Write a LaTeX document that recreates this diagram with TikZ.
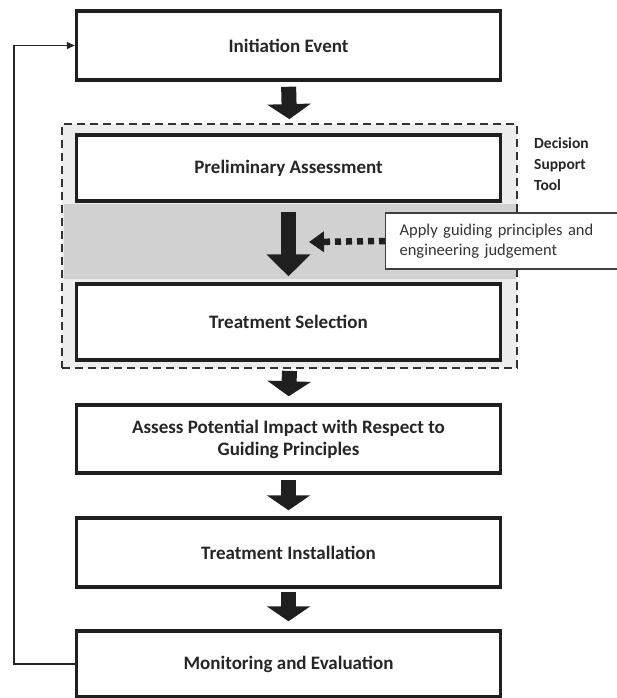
\documentclass[tikz,border=0pt]{standalone}
\usepackage{fontspec}
\setmainfont{Carlito}
\usetikzlibrary{arrows.meta}

\begin{document}
\begin{tikzpicture}[x=1pt,y=-1pt,
  procbox/.style={draw=black!88,line width=3.5pt,fill=white,minimum width=424pt,inner sep=0pt,align=center,text=black!85,font=\fontsize{19}{22}\selectfont\bfseries},
  blockarr/.style={draw=black!88,line width=15pt,-{Triangle[width=43pt,length=15pt]}},
  dotarr/.style={draw=black!88,line width=6.5pt,dash pattern=on 6pt off 5pt,-{Triangle[width=20pt,length=15pt]}},
  fback/.style={draw=black!85,line width=1.6pt,-{Triangle[width=7pt,length=8pt]}}]
\useasboundingbox[fill=white] (0,0) rectangle (616,698);
% decision support tool area
\node[draw=black!80,line width=1.8pt,dash pattern=on 8pt off 5pt,fill=black!7,minimum width=455pt,minimum height=244pt,inner sep=0pt] (dst) at (289.5,246) {};
\fill[black!18] (63.5,204) rectangle (515.5,279);
\node[anchor=north west,align=left,inner sep=0pt,text=black!85,font=\fontsize{15.5}{21}\selectfont\bfseries] (dstlabel) at (534,137) {Decision\\Support\\Tool};
% process boxes
\node[procbox,minimum height=69pt] (init) at (288.5,45.5) {Initiation Event};
\node[procbox,minimum height=66pt] (prelim) at (288.5,168) {Preliminary Assessment};
\node[procbox,minimum height=76pt] (tsel) at (288.5,322) {Treatment Selection};
\node[procbox,minimum height=68pt] (assess) at (288.5,439) {Assess Potential Impact with Respect to\\Guiding Principles};
\node[procbox,minimum height=69pt] (install) at (288.5,552.5) {Treatment Installation};
\node[procbox,minimum height=66pt] (monitor) at (288.5,664) {Monitoring and Evaluation};
% guiding principles note
\node[draw=black!75,line width=1.2pt,fill=white,anchor=west,minimum height=56pt,text width=212pt,inner xsep=14pt,align=left,text=black!80,font=\fontsize{16.5}{20}\selectfont] (apply) at (385,241) {Apply guiding principles and\\engineering judgement};
\coordinate (applytip) at (309,242);
% flow
\draw[blockarr,shorten <=5pt,shorten >=4pt] (init.south) -- (dst.north);
\draw[blockarr,shorten <=9pt,shorten >=6pt,-{Triangle[width=43pt,length=22pt]}] (prelim.south) -- (tsel.north);
\draw[blockarr,shorten <=2pt,shorten >=7pt] (dst.south) -- (assess.north);
\draw[blockarr,shorten <=5pt,shorten >=6pt] (assess.south) -- (install.north);
\draw[blockarr,shorten <=3pt,shorten >=8pt] (install.south) -- (monitor.north);
\draw[dotarr] (apply.west) -- (applytip);
% feedback loop
\draw[fback] (monitor.west) -- ++(-61,0) |- (init.west);
\end{tikzpicture}
\end{document}
